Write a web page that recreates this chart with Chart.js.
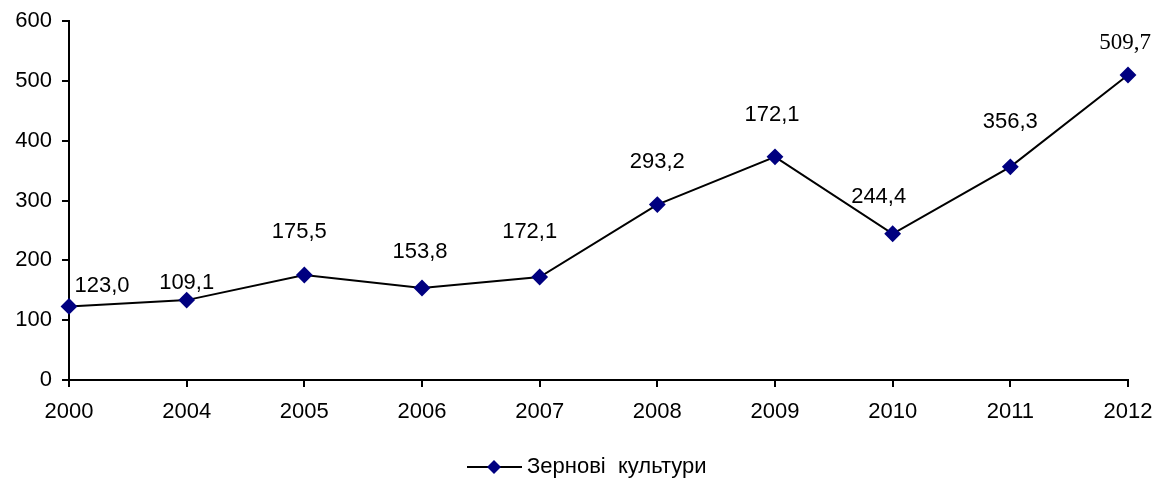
<!DOCTYPE html>
<html>
<head>
<meta charset="utf-8">
<script src="https://cdn.jsdelivr.net/npm/chart.js@4"></script>
<style>
  html, body { margin: 0; padding: 0; background: #fff; }
  #wrap { width: 1157px; height: 483px; }
</style>
</head>
<body>
<div id="wrap"><canvas id="c"></canvas></div>
<script>
// data
const years = ['2000', '2004', '2005', '2006', '2007', '2008', '2009', '2010', '2011', '2012']
const grain = [123.0, 133.5, 175.5, 153.8, 172.1, 293.2, 373.0, 244.4, 356.3, 509.7]
const valueLabels = ['123,0', '109,1', '175,5', '153,8', '172,1', '293,2', '172,1', '244,4', '356,3', '509,7']
const seriesName = 'Зернові  культури'

// label placement relative to each point (px)
const labelShift = [[33, -20], [0, -17], [-5, -43], [-2, -36], [-10, -45], [0, -43], [-3, -42], [-14, -37], [0, -45], [-3, -32]]

const navy = '#000080'
const sans = '"Liberation Sans", Arial, sans-serif'

const valueLabelPlugin = {
  id: 'valueLabels',
  afterDatasetsDraw(chart) {
    const ctx = chart.ctx
    const meta = chart.getDatasetMeta(0)
    ctx.save()
    ctx.fillStyle = '#000'
    ctx.textAlign = 'center'
    ctx.textBaseline = 'middle'
    meta.data.forEach((pt, i) => {
      const last = i === meta.data.length - 1
      ctx.font = last ? '23px "Liberation Serif", serif' : '22px ' + sans
      ctx.fillText(valueLabels[i], pt.x + labelShift[i][0], pt.y + labelShift[i][1])
    })
    ctx.restore()
  }
}

const legendPlugin = {
  id: 'lineLegend',
  afterDraw(chart) {
    const ctx = chart.ctx
    const y = 467
    const x0 = 467
    ctx.save()
    ctx.strokeStyle = '#000'
    ctx.lineWidth = 2
    ctx.beginPath()
    ctx.moveTo(x0, y)
    ctx.lineTo(x0 + 55, y)
    ctx.stroke()
    ctx.fillStyle = navy
    ctx.beginPath()
    ctx.moveTo(x0 + 27, y - 7)
    ctx.lineTo(x0 + 34, y)
    ctx.lineTo(x0 + 27, y + 7)
    ctx.lineTo(x0 + 20, y)
    ctx.closePath()
    ctx.fill()
    ctx.fillStyle = '#000'
    ctx.font = '22px ' + sans
    ctx.textBaseline = 'middle'
    ctx.textAlign = 'left'
    ctx.fillText(seriesName, x0 + 60, y)
    ctx.restore()
  }
}

new Chart(document.getElementById('c'), {
  type: 'line',
  data: {
    labels: years,
    datasets: [{
      label: seriesName,
      data: grain,
      borderColor: '#000',
      borderWidth: 2,
      pointStyle: 'rectRot',
      pointRadius: 7,
      pointBackgroundColor: navy,
      pointBorderColor: navy,
      tension: 0
    }]
  },
  options: {
    responsive: true,
    maintainAspectRatio: false,
    animation: false,
    layout: { padding: { top: 21, right: 29, bottom: 58, left: 0 } },
    scales: {
      x: {
        offset: false,
        afterFit(scale) {
          scale.height = 45
          scale.paddingLeft = 0
          scale.paddingRight = 0
        },
        grid: { drawOnChartArea: false, drawTicks: true, tickLength: 7, color: '#000', lineWidth: 2, offset: false },
        border: { display: true, color: '#000', width: 2 },
        ticks: { color: '#000', font: { size: 22, family: sans }, padding: 12, maxRotation: 0, autoSkip: false }
      },
      y: {
        min: 0,
        max: 600,
        afterFit(scale) {
          scale.width = 69
          scale.paddingTop = 0
          scale.paddingBottom = 0
        },
        grid: { drawOnChartArea: false, drawTicks: true, tickLength: 7, color: '#000', lineWidth: 2 },
        border: { display: true, color: '#000', width: 2 },
        ticks: { stepSize: 100, color: '#000', font: { size: 22, family: sans }, padding: 10 }
      }
    },
    plugins: {
      legend: { display: false },
      tooltip: { enabled: false }
    }
  },
  plugins: [valueLabelPlugin, legendPlugin]
})
</script>
</body>
</html>
